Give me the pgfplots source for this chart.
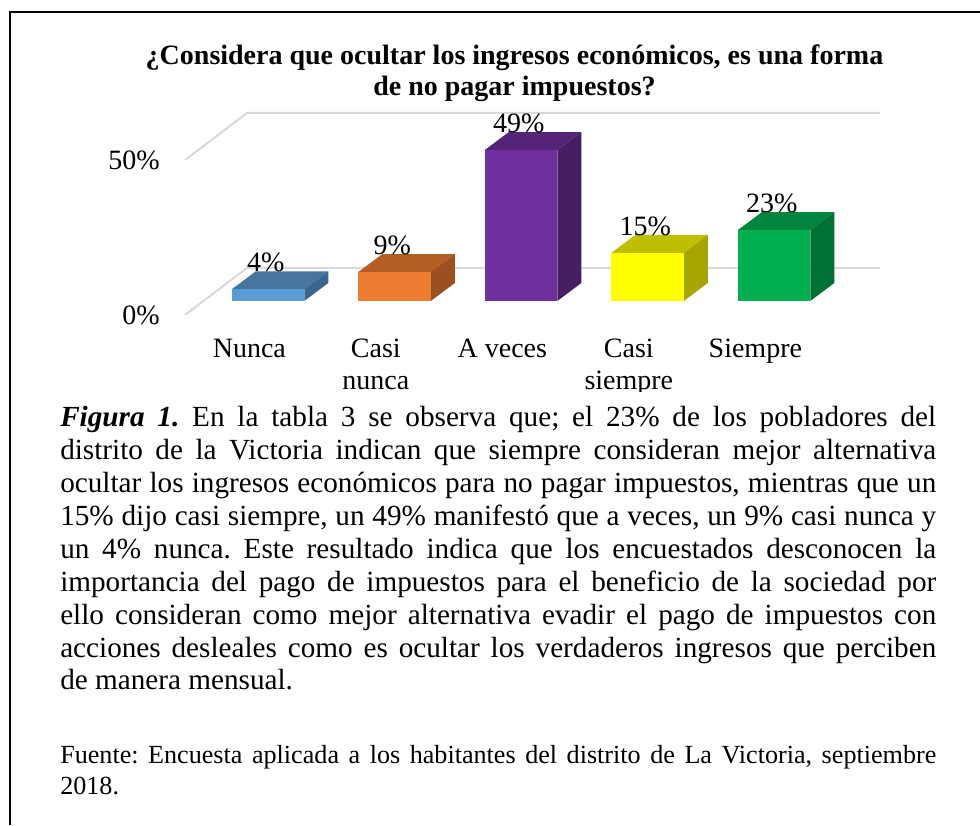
\documentclass[border=0pt]{standalone}
\usepackage{fontspec}
\setmainfont{Liberation Serif}
\usepackage{pgfplots}
\pgfplotsset{compat=1.18}
\definecolor{gridc}{HTML}{D9D9D9}
\frenchspacing
\begin{document}
\begin{tikzpicture}
\useasboundingbox (0,0) rectangle (735pt,618.75pt);
% back wall and floor, with the percent ticks
\begin{axis}[at={(0,0)},anchor=south west,scale only axis,width=735pt,height=618.75pt,
  xmin=0,xmax=980,ymin=-164.52,ymax=101.61,clip=false,
  axis line style={draw=none},xtick=\empty,ytick={0,50},yticklabels={0\%,50\%},
  major tick length=0pt,
  yticklabel style={font=\fontsize{21}{21}\selectfont,anchor=east,xshift=120pt,inner sep=0pt},
  /pgf/number format/assume math mode=true]
\addplot[gridc,line width=1.5pt] coordinates {(185,0) (247,15.16) (880,15.16)};
\addplot[gridc,line width=1.5pt] coordinates {(185,50) (247,65.16) (880,65.16)};
\end{axis}
% bars
\begin{axis}[at={(0,0)},anchor=south west,scale only axis,width=735pt,height=618.75pt,
  xmin=-1.1186,xmax=6.6285,ymin=-170.13,ymax=97.73,clip=false,
  axis line style={draw=none},ytick=\empty,major tick length=0pt,
  xtick={1,2,3,4,5},
  xticklabels={Nunca,Casi\\nunca,A veces,Casi\\siempre,Siempre},
  xticklabel style={font=\fontsize{21}{24}\selectfont,align=center,anchor=north,xshift=-14pt,yshift=364.5pt,inner sep=0pt},
  nodes near coords style={font=\fontsize{21}{21}\selectfont,anchor=center,yshift=20.25pt,xshift=-1.7pt,inner sep=0pt},
  point meta=explicit symbolic]
\addplot[fill={rgb,255:red,70;green,118;blue,160},draw=none] coordinates {(.7134,3.8) (1.2866,3.8) (1.4766,9.64) (.9034,9.64) (.7134,3.8)};
\addplot[fill={rgb,255:red,58;green,102;blue,140},draw=none] coordinates {(1.2866,0) (1.4766,5.84) (1.4766,9.64) (1.2866,3.8) (1.2866,0)};
\addplot[fill={rgb,255:red,179;green,94;blue,36},draw=none] coordinates {(1.7134,9.4) (2.2866,9.4) (2.4766,15.24) (1.9034,15.24) (1.7134,9.4)};
\addplot[fill={rgb,255:red,154;green,80;blue,32},draw=none] coordinates {(2.2866,0) (2.4766,5.84) (2.4766,15.24) (2.2866,9.4) (2.2866,0)};
\addplot[fill={rgb,255:red,84;green,36;blue,120},draw=none] coordinates {(2.7134,49) (3.2866,49) (3.4766,54.84) (2.9034,54.84) (2.7134,49)};
\addplot[fill={rgb,255:red,70;green,30;blue,100},draw=none] coordinates {(3.2866,0) (3.4766,5.84) (3.4766,54.84) (3.2866,49) (3.2866,0)};
\addplot[fill={rgb,255:red,191;green,191;blue,0},draw=none] coordinates {(3.7134,15.6) (4.2866,15.6) (4.4766,21.44) (3.9034,21.44) (3.7134,15.6)};
\addplot[fill={rgb,255:red,166;green,166;blue,0},draw=none] coordinates {(4.2866,0) (4.4766,5.84) (4.4766,21.44) (4.2866,15.6) (4.2866,0)};
\addplot[fill={rgb,255:red,0;green,133;blue,60},draw=none] coordinates {(4.7134,23) (5.2866,23) (5.4766,28.84) (4.9034,28.84) (4.7134,23)};
\addplot[fill={rgb,255:red,0;green,112;blue,52},draw=none] coordinates {(5.2866,0) (5.4766,5.84) (5.4766,28.84) (5.2866,23) (5.2866,0)};
\addplot[ybar,bar width=54.4pt,bar shift=0pt,fill={rgb,255:red,91;green,155;blue,213},draw=none,nodes near coords] coordinates {(1,3.8)[4\%]};
\addplot[ybar,bar width=54.4pt,bar shift=0pt,fill={rgb,255:red,237;green,125;blue,49},draw=none,nodes near coords] coordinates {(2,9.4)[9\%]};
\addplot[ybar,bar width=54.4pt,bar shift=0pt,fill={rgb,255:red,112;green,48;blue,160},draw=none,nodes near coords] coordinates {(3,49)[49\%]};
\addplot[ybar,bar width=54.4pt,bar shift=0pt,fill={rgb,255:red,255;green,255;blue,0},draw=none,nodes near coords] coordinates {(4,15.6)[15\%]};
\addplot[ybar,bar width=54.4pt,bar shift=0pt,fill={rgb,255:red,0;green,176;blue,80},draw=none,nodes near coords] coordinates {(5,23)[23\%]};
\end{axis}
\begin{scope}[x=0.75pt,y=-0.75pt,yshift=618.75pt]
\fill[white] (330,392) rectangle (700,402);
\draw[black,line width=1.5pt] (10,825) -- (10,12) -- (980,12);
\node[font=\fontsize{21}{23}\bfseries\selectfont,align=center,inner sep=0pt,anchor=north] at (514.5,45)
  {¿Considera que ocultar los ingresos económicos, es una forma\\de no pagar impuestos?};
\node[font=\fontsize{21.9}{24.7}\selectfont,text width=657pt,align=justify,inner sep=0pt,anchor=north west] at (60,406)
  {\textbf{\textit{Figura 1.}} En la tabla 3 se observa que; el 23\% de los pobladores del\linebreak
  distrito de la Victoria indican que siempre consideran mejor alternativa\linebreak
  ocultar los ingresos económicos para no pagar impuestos, mientras que un\linebreak
  15\% dijo casi siempre, un 49\% manifestó que a veces, un 9\% casi nunca y\linebreak
  un 4\% nunca. Este resultado indica que los encuestados desconocen la\linebreak
  importancia del pago de impuestos para el beneficio de la sociedad por\linebreak
  ello consideran como mejor alternativa evadir el pago de impuestos con\linebreak
  acciones desleales como es ocultar los verdaderos ingresos que perciben\linebreak
  de manera mensual.};
\node[font=\fontsize{19.6}{23}\selectfont,text width=657pt,align=justify,inner sep=0pt,anchor=north west] at (60,745)
  {Fuente: Encuesta aplicada a los habitantes del distrito de La Victoria, septiembre\linebreak
  2018.};
\end{scope}
\end{tikzpicture}
\end{document}
